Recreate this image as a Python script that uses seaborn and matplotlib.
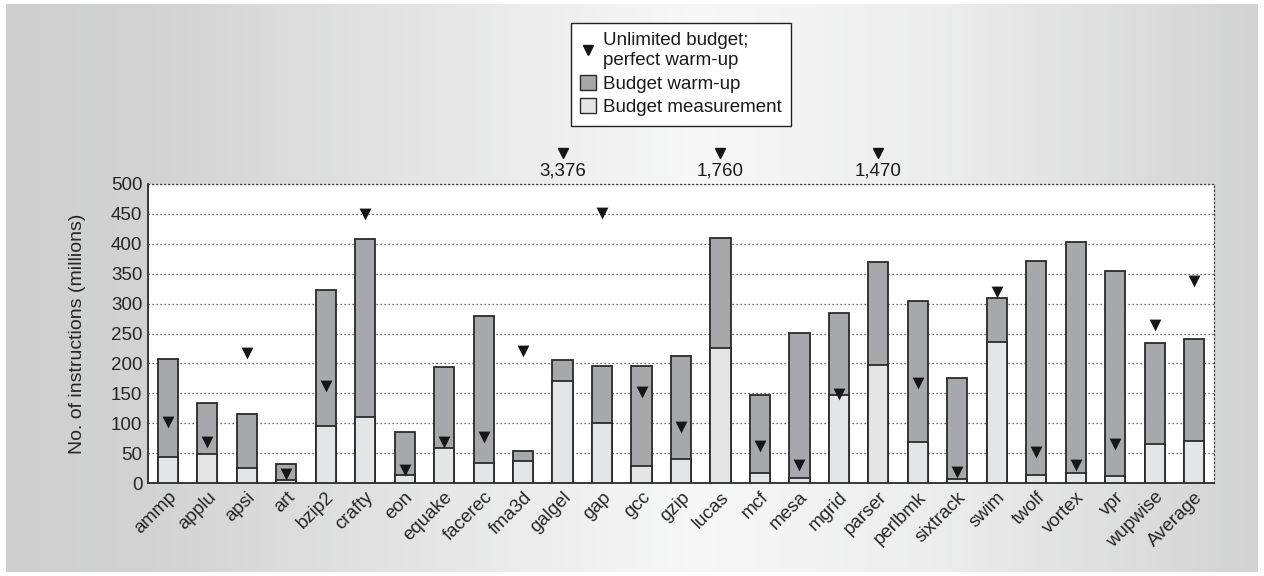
import numpy as np
import pandas as pd
import matplotlib
matplotlib.use("Agg")
import matplotlib.pyplot as plt
from matplotlib.patches import Patch
from matplotlib.lines import Line2D
import matplotlib.transforms as mtransforms
import seaborn as sns

# SPEC CPU2000 benchmarks
categories = ["ammp", "applu", "apsi", "art", "bzip2", "crafty", "eon", "equake",
              "facerec", "fma3d", "galgel", "gap", "gcc", "gzip", "lucas", "mcf",
              "mesa", "mgrid", "parser", "perlbmk", "sixtrack", "swim", "twolf",
              "vortex", "vpr", "wupwise", "Average"]

# Instructions in millions
budget_measurement = [43, 48, 25, 5, 95, 110, 14, 58, 33, 37, 171, 100, 29, 40, 225,
                      17, 9, 147, 197, 68, 6, 236, 13, 16, 12, 66, 70]
budget_warmup = [164, 86, 91, 27, 228, 298, 71, 136, 246, 16, 34, 96, 166, 173, 184,
                 130, 242, 137, 173, 236, 170, 73, 359, 387, 343, 168, 170]
unlimited_budget = [102, 68, 218, 15, 163, 449, 22, 68, 77, 221, 3376, 452, 152, 93,
                    1760, 62, 30, 148, 1470, 168, 18, 319, 52, 30, 66, 264, 338]

y_ticks = [0, 50, 100, 150, 200, 250, 300, 350, 400, 450, 500]
y_max = 500

WARM = "#a7a8ab"
MEAS = "#e4e5e7"
EDGE = "#2a2a2a"
MARK = "#161616"
FS = 13.5

sns.set_theme(style="white")
plt.rcParams["font.family"] = ["Liberation Sans", "DejaVu Sans"]
plt.rcParams["text.color"] = "#1a1a1a"

df = pd.DataFrame({
    "bench": categories,
    "measurement": budget_measurement,
    "warmup": budget_warmup,
    "unlimited": unlimited_budget,
})
df["total"] = df["measurement"] + df["warmup"]

W, H = 1264, 576
fig = plt.figure(figsize=(W / 100, H / 100), dpi=100, facecolor="white")

# shaded backdrop panel
bg = fig.add_axes([6 / W, 4 / H, 1252 / W, 568 / H], zorder=-10)
gx = np.linspace(0, 1, 400)
shade = np.interp(gx, [0.0, 0.12, 0.55, 0.75, 1.0], [0.815, 0.83, 0.975, 0.93, 0.83])
img = np.tile(shade, (20, 1))
bg.imshow(np.dstack([img * 0.995, img * 0.997, img * 1.0]).clip(0, 1),
          aspect="auto", extent=[0, 1, 0, 1], interpolation="bilinear")
bg.set_axis_off()

ax = fig.add_axes([148 / W, 1 - 483 / H, (1214 - 148) / W, (483 - 184) / H])
ax.set_facecolor("white")

# stacked bars: full height in warm-up grey, measurement part drawn over it
sns.barplot(data=df, x="bench", y="total", order=categories, color=WARM,
            saturation=1, edgecolor=EDGE, linewidth=1.3, width=0.51, ax=ax, zorder=3)
sns.barplot(data=df, x="bench", y="measurement", order=categories, color=MEAS,
            saturation=1, edgecolor=EDGE, linewidth=1.3, width=0.51, ax=ax, zorder=4)

# unlimited-budget markers that fit on the scale
on_scale = df[df["unlimited"] <= y_max]
sns.stripplot(data=on_scale, x="bench", y="unlimited", order=categories,
              jitter=False, marker="v", size=8.5, color=MARK, linewidth=0,
              ax=ax, zorder=6)

# off-scale values shown above the plot with their numbers
trans = mtransforms.blended_transform_factory(ax.transData, ax.transAxes)
for i, (name, v) in enumerate(zip(categories, unlimited_budget)):
    if v > y_max:
        ax.plot([i], [1.104], marker="v", ms=7.5, color=MARK, ls="none",
                transform=trans, clip_on=False, zorder=6)
        ax.text(i, 1.045, f"{v:,}", transform=trans, ha="center", va="center",
                fontsize=FS, clip_on=False)

ax.set_xlim(-0.5, len(categories) - 0.5)
ax.set_ylim(0, y_max)
ax.set_yticks(y_ticks)
ax.set_yticklabels([str(t) for t in y_ticks], fontsize=FS)
ax.yaxis.grid(True, linestyle=(0, (1, 2.2)), color="#444444", linewidth=0.9, zorder=0)
ax.xaxis.grid(False)
ax.set_axisbelow(True)
ax.tick_params(axis="y", length=0, pad=4)
ax.tick_params(axis="x", length=0, pad=4)
ax.set_xticks(range(len(categories)))
ax.set_xticklabels(categories, rotation=45, ha="right", rotation_mode="anchor",
                   fontsize=FS)
ax.set_xlabel("")
ax.set_ylabel("No. of instructions (millions)", fontsize=14, labelpad=18)

for side in ("left", "bottom"):
    ax.spines[side].set_color("#2a2a2a")
    ax.spines[side].set_linewidth(1.3)
for side in ("top", "right"):
    ax.spines[side].set_color("#444444")
    ax.spines[side].set_linewidth(0.9)
    ax.spines[side].set_linestyle((0, (1, 2.2)))

handles = [
    Line2D([0], [0], marker="v", color=MARK, ls="none", ms=7),
    Patch(facecolor=WARM, edgecolor=EDGE, linewidth=1.0),
    Patch(facecolor=MEAS, edgecolor=EDGE, linewidth=1.0),
]
labels = ["Unlimited budget;\nperfect warm-up", "Budget warm-up", "Budget measurement"]
leg = fig.legend(handles, labels, loc="upper left", bbox_to_anchor=(571 / W, 1 - 23 / H),
                 bbox_transform=fig.transFigure, borderaxespad=0, fontsize=FS,
                 frameon=True, fancybox=False, edgecolor="#222222", framealpha=1,
                 handlelength=0.85, handleheight=0.85, handletextpad=0.35,
                 labelspacing=0.3, borderpad=0.5)
leg.get_frame().set_linewidth(1.0)

fig.savefig("out.png", dpi=100, facecolor="white")
